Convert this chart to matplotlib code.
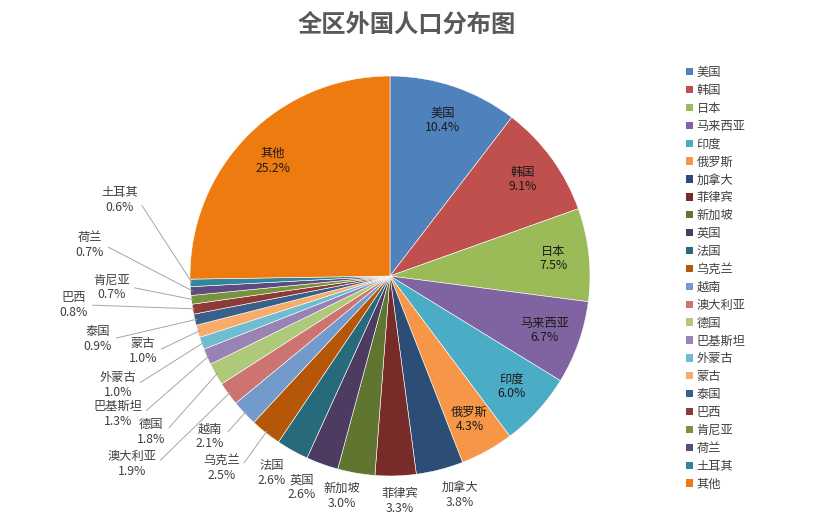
import matplotlib
matplotlib.use("Agg")
import matplotlib.pyplot as plt
from matplotlib.patches import Patch
import numpy as np

plt.rcParams['font.family'] = ['Noto Sans CJK SC', 'DejaVu Sans']

# ---------------- data ----------------
countries = ['美国', '韩国', '日本', '马来西亚', '印度', '俄罗斯', '加拿大', '菲律宾',
             '新加坡', '英国', '法国', '乌克兰', '越南', '澳大利亚', '德国', '巴基斯坦',
             '外蒙古', '蒙古', '泰国', '巴西', '肯尼亚', '荷兰', '土耳其', '其他']
shares = [10.4, 9.1, 7.5, 6.7, 6.0, 4.3, 3.8, 3.3,
          3.0, 2.6, 2.6, 2.5, 2.1, 1.9, 1.8, 1.3,
          1.0, 1.0, 0.9, 0.8, 0.7, 0.7, 0.6, 25.2]

# ---------------- style / layout ----------------
colors = ['#4F81BD', '#C0504D', '#9BBB59', '#8064A2', '#4BACC6', '#F79646',
          '#2C4D75', '#772C2A', '#5F7530', '#4D3B62', '#276A7C', '#B65708',
          '#729ACA', '#CD7371', '#AFC97A', '#9983B5', '#6FBDD1', '#F9AB6B',
          '#3A5F8B', '#8E3B38', '#77933C', '#5F4B7F', '#31859C', '#EE7B10']

W, H = 813, 525
CX, CY, R = 390, 276, 200          # pie centre / radius in pixels (from top)
inside = {'美国', '韩国', '日本', '马来西亚', '印度', '俄罗斯', '其他'}
# outside label centres in pixel coords (x, y from top); leader line flag
outside_pos = {
    '加拿大': (460, 495, False), '菲律宾': (400, 501, False), '新加坡': (342, 496, False),
    '英国': (302, 487, False), '法国': (272, 473, False), '乌克兰': (222, 468, True),
    '越南': (210, 436, True), '澳大利亚': (132, 464, True), '德国': (151, 432, True),
    '巴基斯坦': (118, 414, True), '外蒙古': (118, 385, True), '蒙古': (143, 351, True),
    '泰国': (98, 339, True), '巴西': (74, 305, True), '肯尼亚': (112, 287, True),
    '荷兰': (90, 245, True), '土耳其': (120, 200, True),
}

fig = plt.figure(figsize=(W / 100, H / 100), dpi=100)
ax = fig.add_axes([0, 0, 1, 1])

wedges, _ = ax.pie(shares, colors=colors, startangle=90, counterclock=False,
                   center=(CX, H - CY), radius=R, frame=True,
                   wedgeprops=dict(edgecolor='white', linewidth=0.4))
ax.set_xlim(0, W)
ax.set_ylim(0, H)
ax.set_aspect('equal')
ax.axis('off')

for w, name, val in zip(wedges, countries, shares):
    ang = np.deg2rad((w.theta1 + w.theta2) / 2)
    label = f'{name}\n{val:.1f}%'
    if name in inside:
        x = CX + 0.82 * R * np.cos(ang)
        y = (H - CY) + 0.82 * R * np.sin(ang)
        ax.text(x, y, label, ha='center', va='center', fontsize=8.8,
                color='#1a1a1a', linespacing=1.15)
    else:
        lx, ly, line = outside_pos[name]
        ex = CX + 0.99 * R * np.cos(ang)
        ey = (H - CY) + 0.99 * R * np.sin(ang)
        if line:
            ax.annotate(label, xy=(ex, ey), xytext=(lx, H - ly), ha='center', va='center',
                        fontsize=8.8, color='#404040', linespacing=1.15,
                        arrowprops=dict(arrowstyle='-', color='#a6a6a6', lw=0.7,
                                        shrinkA=1, shrinkB=0, relpos=(1, 0.5)))
        else:
            ax.text(lx, H - ly, label, ha='center', va='center', fontsize=8.8,
                    color='#404040', linespacing=1.15)

fig.text(407 / W, 1 - 25 / H, '全区外国人口分布图', ha='center', va='center',
         fontsize=17.5, color='#595959', fontweight='semibold')

handles = [Patch(facecolor=c, edgecolor='none') for c in colors]
leg = fig.legend(handles, countries, loc='upper left',
                 bbox_to_anchor=(686 / W, 1 - 66 / H), frameon=False,
                 fontsize=8.8, handlelength=0.55, handleheight=0.55,
                 handletextpad=0.3, labelspacing=0.40, borderpad=0, borderaxespad=0)
for t in leg.get_texts():
    t.set_color('#404040')

fig.savefig('out.png', dpi=100, facecolor='white')
